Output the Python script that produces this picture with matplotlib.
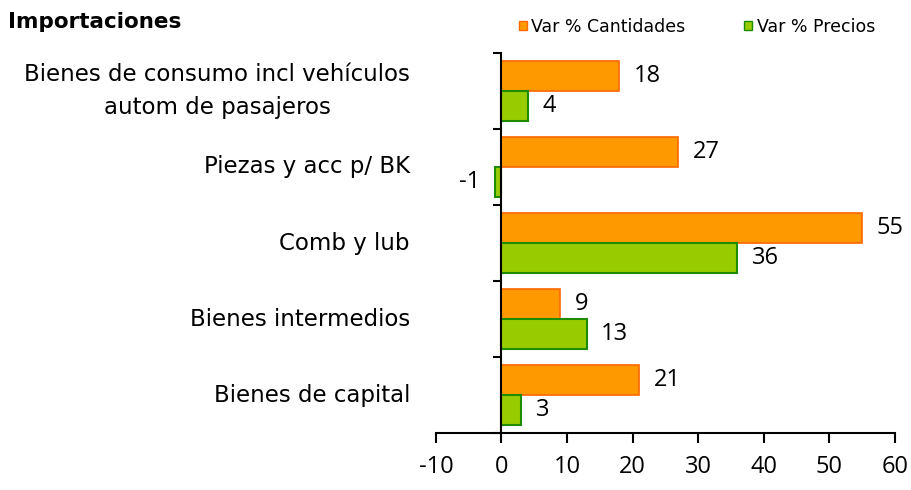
import numpy as np
import matplotlib.pyplot as plt
from matplotlib.patches import Patch
from matplotlib.transforms import blended_transform_factory

# categories from top to bottom
categories = ['Bienes de consumo incl vehículos\nautom de pasajeros',
              'Piezas y acc p/ BK',
              'Comb y lub',
              'Bienes intermedios',
              'Bienes de capital']
cantidades = [18, 27, 55, 9, 21]
precios = [4, -1, 36, 13, 3]
x_ticks = [-10, 0, 10, 20, 30, 40, 50, 60]

plt.rcParams['font.family'] = ['Open Sans', 'DejaVu Sans']
plt.rcParams['axes.unicode_minus'] = False

fig = plt.figure(figsize=(9.12, 4.9), dpi=100)
ax = fig.add_axes([0.478, 0.116, 0.503, 0.776])

n = len(categories)
pos = np.arange(n)[::-1]  # top category at the top
h = 0.395

ax.barh(pos + h / 2, cantidades, height=h, color='#FF9900', edgecolor='#FF6600', linewidth=1.2)
ax.barh(pos - h / 2, precios, height=h, color='#99CC00', edgecolor='#1E8C00', linewidth=1.5)

# value labels
for p, v in zip(pos, cantidades):
    ax.text(v + 2.2 if v >= 0 else v - 2.2, p + h / 2, str(v), va='center',
            ha='left' if v >= 0 else 'right', fontsize=17)
for p, v in zip(pos, precios):
    ax.text(v + 2.2 if v >= 0 else v - 2.2, p - h / 2, str(v), va='center',
            ha='left' if v >= 0 else 'right', fontsize=17)

ax.set_xlim(-10, 60)
ax.set_ylim(-0.5, n - 0.5)
ax.set_xticks(x_ticks)
ax.tick_params(axis='x', labelsize=17, length=7, width=1.5, pad=9, direction='out')

# y axis sits at zero, ticks on category boundaries
ax.spines['left'].set_position(('data', 0))
ax.spines['left'].set_linewidth(1.5)
ax.spines['bottom'].set_linewidth(1.5)
ax.spines['top'].set_visible(False)
ax.spines['right'].set_visible(False)
ax.set_yticks(np.arange(n + 1) - 0.5)
ax.set_yticklabels([])
ax.tick_params(axis='y', length=6, width=1.5, direction='out')

# category names, right aligned in a column left of the plot
trans = blended_transform_factory(fig.transFigure, ax.transData)
for p, c in zip(pos, categories):
    ax.text(410 / 912, p, c, transform=trans, ha='right', va='center',
            multialignment='center', fontsize=16.5, family='DejaVu Sans', linespacing=1.55)

fig.text(8 / 912, 1 - 22 / 490, 'Importaciones', fontsize=15.5, fontweight='bold', va='center',
         family=['DejaVu Sans Condensed', 'DejaVu Sans'])

handles = [Patch(facecolor='#FF9900', edgecolor='#FF6600'),
           Patch(facecolor='#99CC00', edgecolor='#1E8C00')]
fig.legend(handles, ['Var % Cantidades', 'Var % Precios'], loc='center', ncol=2,
           bbox_to_anchor=(697 / 912, 1 - 27 / 490), frameon=False,
           handlelength=0.45, handleheight=0.45, handletextpad=0.25, columnspacing=3.4,
           prop={'family': ['DejaVu Sans Condensed', 'DejaVu Sans'], 'size': 12.5})

fig.savefig('out.png', dpi=100)
